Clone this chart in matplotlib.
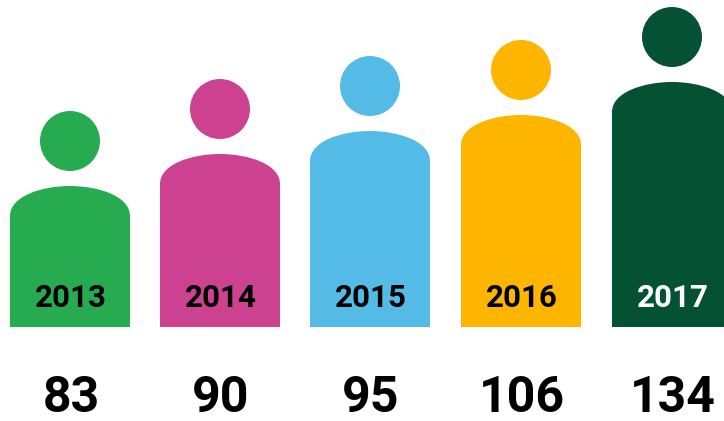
import matplotlib
matplotlib.use('Agg')
import matplotlib.pyplot as plt
from matplotlib.patches import Circle, PathPatch
from matplotlib.path import Path
import numpy as np

plt.rcParams['font.family'] = ['Roboto', 'DejaVu Sans']

years = ['2013', '2014', '2015', '2016', '2017']
values = [83, 90, 95, 106, 134]
colors = ['#27ab50', '#cc4190', '#53bbe5', '#fdb500', '#045133']
year_colors = ['black', 'black', 'black', 'black', 'white']

# pixels per unit for the pictogram height
scale = 1.0
centers = [70, 220, 370, 521, 672]
half = 60
base = 327
tops = [186, 154, 131, 115, 82]

fig = plt.figure(figsize=(7.24, 4.21), dpi=100)
ax = fig.add_axes([0, 0, 1, 1])
ax.set_xlim(0, 724)
ax.set_ylim(421, 0)
ax.axis('off')


def person(cx, top, color):
    # body with a rounded shoulder, head floating above
    shoulder = top + 30
    verts = [(cx - half, base), (cx - half, shoulder),
             (cx - half, top + 10), (cx - 28, top), (cx, top),
             (cx + 28, top), (cx + half, top + 10), (cx + half, shoulder),
             (cx + half, base), (cx - half, base)]
    codes = [Path.MOVETO, Path.LINETO,
             Path.CURVE4, Path.CURVE4, Path.CURVE4,
             Path.CURVE4, Path.CURVE4, Path.CURVE4,
             Path.LINETO, Path.CLOSEPOLY]
    ax.add_patch(PathPatch(Path(verts, codes), facecolor=color, edgecolor='none'))
    ax.add_patch(Circle((cx, top - 45), 30, facecolor=color, edgecolor='none'))


for i in range(len(years)):
    person(centers[i], tops[i], colors[i])
    ax.text(centers[i] + 1, 298, years[i], color=year_colors[i], fontsize=22.5,
            fontweight='bold', ha='center', va='center')
    ax.text(centers[i] + 1, 399, str(values[i]), color='black', fontsize=36,
            fontweight='bold', ha='center', va='center')

fig.savefig('out.png', dpi=100)
